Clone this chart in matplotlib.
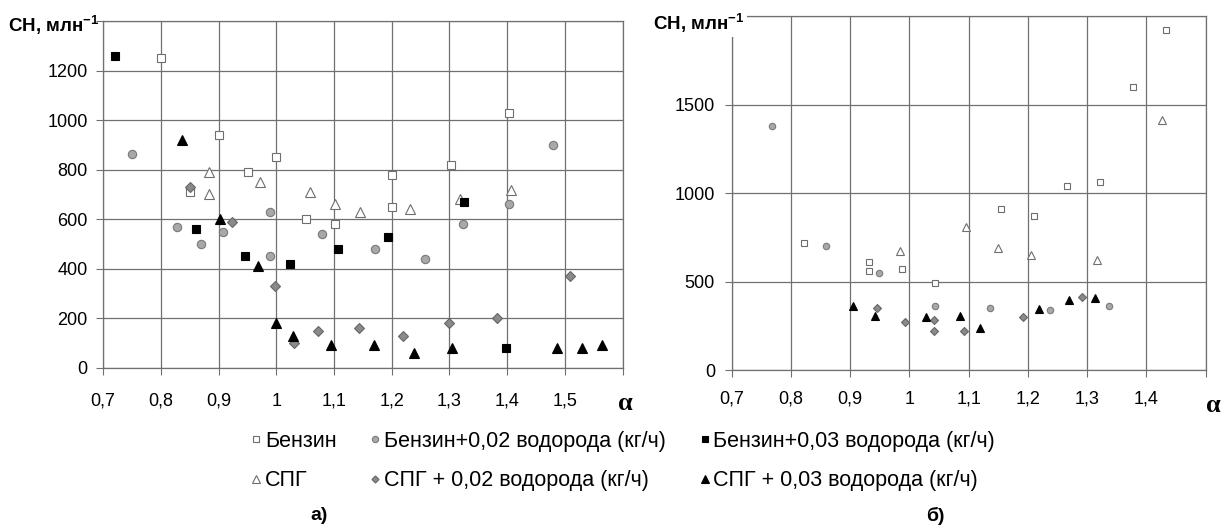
import matplotlib
matplotlib.use('Agg')
import matplotlib.pyplot as plt
import numpy as np

plt.rcParams['font.family'] = ['Liberation Sans', 'DejaVu Sans']
plt.rcParams['mathtext.default'] = 'regular'

#=====================================================
# Data, chart а)
a_benz_x = [0.80, 0.85, 0.90, 0.951, 1.00, 1.051, 1.102, 1.201, 1.201, 1.302, 1.403]
a_benz_y = [1250, 710, 940, 790, 850, 600, 580, 780, 650, 820, 1030]

a_spg_x = [0.883, 0.883, 0.971, 1.058, 1.101, 1.145, 1.232, 1.319, 1.406]
a_spg_y = [790, 700, 750, 710, 660, 630, 640, 680, 720]

a_benz02_x = [0.75, 0.828, 0.870, 0.908, 0.99, 0.99, 1.080, 1.171, 1.257, 1.324, 1.403, 1.48]
a_benz02_y = [865, 570, 500, 550, 630, 450, 540, 480, 440, 580, 660, 900]

a_benz03_x = [0.721, 0.861, 0.945, 1.023, 1.107, 1.193, 1.326, 1.398]
a_benz03_y = [1260, 560, 450, 420, 480, 530, 670, 80]

a_spg02_x = [0.85, 0.924, 0.997, 1.031, 1.072, 1.144, 1.219, 1.30, 1.383, 1.509]
a_spg02_y = [730, 590, 330, 100, 150, 160, 130, 180, 200, 370]

a_spg03_x = [0.836, 0.902, 0.968, 0.999, 1.029, 1.095, 1.170, 1.239, 1.305, 1.487, 1.53, 1.565]
a_spg03_y = [920, 600, 410, 180, 130, 90, 90, 60, 80, 80, 80, 90]

# Data, chart б)
b_benz_x = [0.822, 0.932, 0.932, 0.988, 1.044, 1.155, 1.211, 1.266, 1.322, 1.377, 1.433]
b_benz_y = [720, 610, 560, 570, 490, 910, 870, 1040, 1060, 1600, 1920]

b_spg_x = [0.984, 1.095, 1.149, 1.205, 1.317, 1.427]
b_spg_y = [675, 810, 690, 650, 620, 1410]

b_benz02_x = [0.768, 0.859, 0.949, 1.044, 1.136, 1.238, 1.337]
b_benz02_y = [1380, 700, 550, 360, 350, 340, 360]

b_benz03_x = []
b_benz03_y = []

b_spg02_x = [0.946, 0.992, 1.041, 1.042, 1.092, 1.192, 1.292]
b_spg02_y = [350, 270, 280, 220, 220, 300, 410]

b_spg03_x = [0.904, 0.942, 1.028, 1.085, 1.119, 1.219, 1.269, 1.314]
b_spg03_y = [360, 305, 300, 305, 240, 345, 395, 405]

# Series names in the same order as the series above
labels = ['Бензин', 'СПГ', 'Бензин+0,02 водорода (кг/ч)', 'Бензин+0,03 водорода (кг/ч)',
          'СПГ + 0,02 водорода (кг/ч)', 'СПГ + 0,03 водорода (кг/ч)']

a_xticks = [0.7, 0.8, 0.9, 1.0, 1.1, 1.2, 1.3, 1.4, 1.5, 1.6]
a_yticks = [0, 200, 400, 600, 800, 1000, 1200, 1400]
b_xticks = [0.7, 0.8, 0.9, 1.0, 1.1, 1.2, 1.3, 1.4, 1.5]
b_yticks = [0, 500, 1000, 1500, 2000]

#=====================================================
# Marker styles for every series (face, edge, marker)
styles = [
    dict(marker='s', mfc='white', mec='#6e6e6e'),
    dict(marker='^', mfc='white', mec='#6e6e6e'),
    dict(marker='o', mfc='#a8a8a8', mec='#7a7a7a'),
    dict(marker='s', mfc='black', mec='black'),
    dict(marker='D', mfc='#8a8a8a', mec='#666666'),
    dict(marker='^', mfc='black', mec='black'),
]
a_sizes = [6.0, 7.0, 6.0, 6.0, 4.8, 7.0]
b_sizes = [4.3, 5.6, 4.6, 4.3, 3.8, 5.6]


def fmtTick(v):
    s = ('%.1f' % v).rstrip('0').rstrip('.')
    return s.replace('.', ',')


def setupAxes(ax, xticks, yticks, xpad, ypad):
    ax.set_xlim(xticks[0], xticks[-1])
    ax.set_ylim(yticks[0], yticks[-1])
    ax.set_xticks(xticks)
    ax.set_yticks(yticks)
    ax.set_xticklabels([fmtTick(v) for v in xticks[:-1]] + [''])
    ax.set_yticklabels([str(v) for v in yticks[:-1]] + [''])
    ax.grid(True, color='#707070', linewidth=0.9)
    ax.set_axisbelow(True)
    for sp in ax.spines.values():
        sp.set_color('#707070')
        sp.set_linewidth(0.9)
    ax.tick_params(axis='x', direction='out', length=5, color='#707070', labelsize=13, pad=xpad)
    ax.tick_params(axis='y', direction='out', length=5, color='#707070', labelsize=13, pad=ypad)


fig = plt.figure(figsize=(12.24, 5.27), dpi=100)
ax1 = fig.add_axes([0.0842, 0.3023, 0.4245, 0.6573])
ax2 = fig.add_axes([0.5978, 0.2979, 0.3872, 0.6717])

a_data = [(a_benz_x, a_benz_y), (a_spg_x, a_spg_y), (a_benz02_x, a_benz02_y),
          (a_benz03_x, a_benz03_y), (a_spg02_x, a_spg02_y), (a_spg03_x, a_spg03_y)]
b_data = [(b_benz_x, b_benz_y), (b_spg_x, b_spg_y), (b_benz02_x, b_benz02_y),
          (b_benz03_x, b_benz03_y), (b_spg02_x, b_spg02_y), (b_spg03_x, b_spg03_y)]

handles = []
for i in range(len(labels)):
    h, = ax1.plot(a_data[i][0], a_data[i][1], linestyle='none', mew=0.8, ms=a_sizes[i],
                  label=labels[i], clip_on=False, zorder=3, **styles[i])
    handles.append(h)
    ax2.plot(b_data[i][0], b_data[i][1], linestyle='none', mew=0.8, ms=b_sizes[i],
             clip_on=False, zorder=3, **styles[i])

setupAxes(ax1, a_xticks, a_yticks, 13, 6)
setupAxes(ax2, b_xticks, b_yticks, 10, 7)

# Axis captions
fig.text(8 / 1224, 1 - 32 / 527, 'СН, млн$^{-1}$', fontsize=13.5, fontweight='bold',
         ha='left', va='baseline')
fig.text(653 / 1224, 1 - 30 / 527, 'СН, млн$^{-1}$', fontsize=13.5, fontweight='bold',
         ha='left', va='baseline', zorder=10,
         bbox=dict(facecolor='white', edgecolor='none', pad=1.5))
fig.text(625 / 1224, 1 - 403 / 527, 'α', fontsize=19, fontweight='bold',
         family='Liberation Serif', ha='center', va='center')
fig.text(1213 / 1224, 1 - 405 / 527, 'α', fontsize=19, fontweight='bold',
         family='Liberation Serif', ha='center', va='center')

# Legend under both charts: row 1 petrol, row 2 CNG
legendOrder = [0, 1, 2, 4, 3, 5]
fig.legend(handles=[handles[i] for i in legendOrder], labels=[labels[i] for i in legendOrder],
           ncol=3, loc='upper left', bbox_to_anchor=(252 / 1224, 1 - 431 / 527),
           frameon=False, fontsize=15.5, markerscale=0.75, handlelength=0.4,
           handletextpad=0.2, columnspacing=1.6, labelspacing=0.85,
           borderpad=0, borderaxespad=0)

fig.text(319 / 1224, 1 - 516 / 527, 'а)', fontsize=14, fontweight='bold', ha='center', va='center')
fig.text(935 / 1224, 1 - 516 / 527, 'б)', fontsize=14, fontweight='bold', ha='center', va='center')

fig.savefig('out.png', dpi=100)
